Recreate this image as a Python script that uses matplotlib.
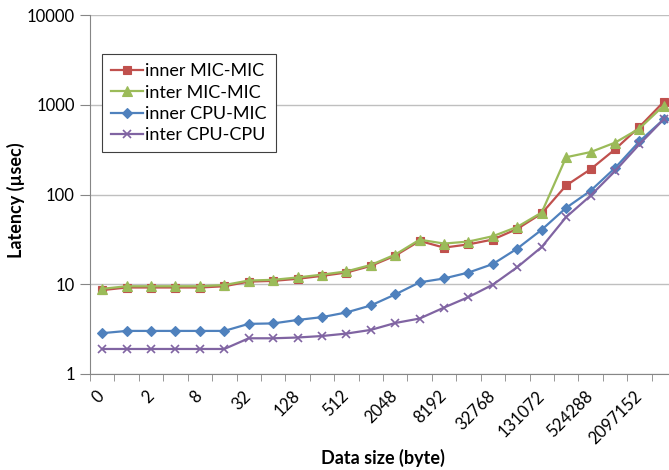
import matplotlib

matplotlib.use("Agg")
import matplotlib.pyplot as plt
import numpy as np

# message sizes in bytes (category axis)
sizes = [0] + [2 ** k for k in range(23)]

inner_mic_mic = [8.6, 9.2, 9.2, 9.2, 9.2, 9.5, 10.7, 10.9, 11.5, 12.4, 13.5, 16.0,
                 20.8, 30.4, 25.6, 27.8, 31.5, 41.4, 61.5, 126, 191, 318, 566, 1080]
inter_mic_mic = [8.9, 9.5, 9.5, 9.5, 9.5, 9.8, 11.0, 11.2, 11.9, 12.8, 13.9, 16.4,
                 21.4, 31.4, 28.4, 29.9, 34.3, 43.6, 63, 260, 297, 378, 543, 980]
inner_cpu_mic = [2.85, 3.02, 3.02, 3.02, 3.02, 3.02, 3.62, 3.66, 4.0, 4.3, 4.85, 5.8,
                 7.7, 10.5, 11.6, 13.5, 16.8, 25, 40.5, 71, 110, 197, 390, 690]
inter_cpu_cpu = [1.9, 1.9, 1.9, 1.9, 1.9, 1.9, 2.5, 2.5, 2.55, 2.65, 2.82, 3.1,
                 3.7, 4.15, 5.5, 7.2, 9.9, 15.5, 26, 56, 97, 182, 362, 690]

series = [
    ("inner MIC-MIC", inner_mic_mic, "#C0504D", "s", 6),
    ("inter MIC-MIC", inter_mic_mic, "#9BBB59", "^", 7),
    ("inner CPU-MIC", inner_cpu_mic, "#4F81BD", "D", 5),
    ("inter CPU-CPU", inter_cpu_cpu, "#8064A2", "x", 6),
]

plt.rcParams["font.family"] = ["Lato", "DejaVu Sans"]

fig = plt.figure(figsize=(6.69, 4.70), dpi=100)
ax = fig.add_axes([90 / 669, 96 / 470, 586 / 669, 359 / 470])

x = np.arange(len(sizes))
for name, vals, color, marker, ms in series:
    ax.plot(x, vals, color=color, lw=1.6, marker=marker, ms=ms,
            mec=color, mew=1.2 if marker == "x" else 0.8, label=name)

ax.set_yscale("log")
ax.set_ylim(1, 10000)
ax.set_yticks([1, 10, 100, 1000, 10000])
ax.set_yticklabels(["1", "10", "100", "1000", "10000"])
ax.yaxis.set_minor_locator(matplotlib.ticker.NullLocator())
ax.grid(axis="y", color="#BFBFBF", lw=1)
ax.set_axisbelow(True)

ax.set_xlim(-0.5, len(sizes) - 0.5)
ax.set_xticks(x[::2])
ax.set_xticklabels([str(s) for s in sizes[::2]], rotation=45, ha="right",
                   va="center", rotation_mode="anchor")
ax.set_xticks(np.arange(len(sizes) + 1) - 0.5, minor=True)
ax.tick_params(axis="x", which="major", length=0, pad=14, labelsize=12)
ax.tick_params(axis="x", which="minor", length=5, color="#868686", direction="out")
ax.tick_params(axis="y", length=7, color="#868686", labelsize=12, pad=4)

for side in ("top", "right"):
    ax.spines[side].set_visible(False)
for side in ("left", "bottom"):
    ax.spines[side].set_color("#868686")

ax.set_ylabel("Latency (µsec)", fontsize=13, fontweight="bold", va="center")
ax.yaxis.set_label_coords(-0.126, 0.485)
ax.set_xlabel("Data size (byte)", fontsize=13, fontweight="bold", va="center")
ax.xaxis.set_label_coords(0.5, -0.234)

leg = ax.legend(loc="upper left", bbox_to_anchor=(0.02, 0.891), borderaxespad=0,
                fontsize=13, handlelength=1.8, handletextpad=0.1,
                labelspacing=0.3, borderpad=0.5, fancybox=False, framealpha=1)
leg.get_frame().set_edgecolor("#404040")
leg.get_frame().set_linewidth(0.8)

fig.savefig("out.png", dpi=100)
plt.close(fig)
